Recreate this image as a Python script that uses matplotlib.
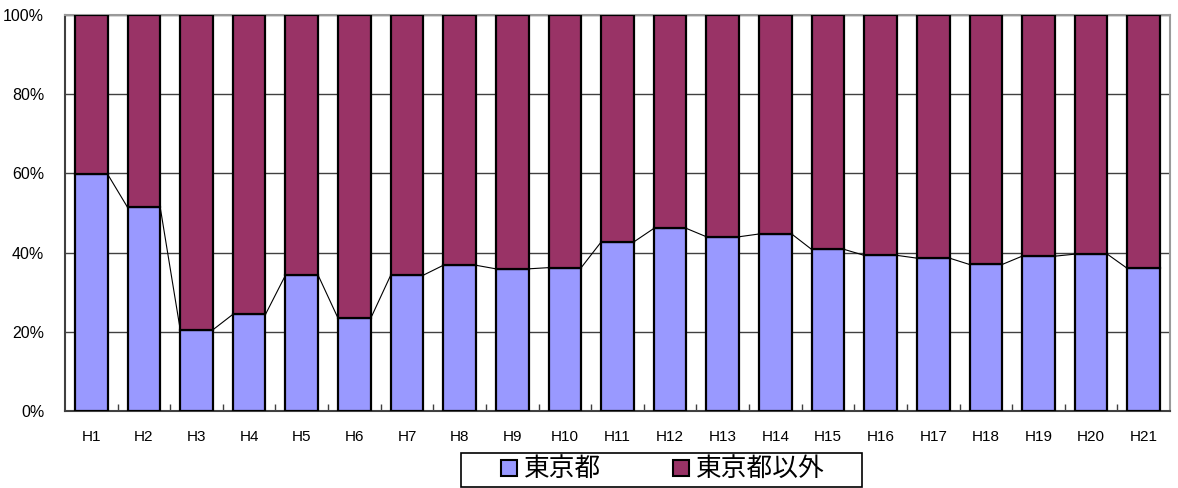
import numpy as np
import matplotlib.pyplot as plt
from matplotlib.patches import Patch, Rectangle
from matplotlib.ticker import FixedLocator, PercentFormatter

plt.rcParams['font.family'] = ['Liberation Sans', 'Noto Sans CJK JP', 'DejaVu Sans']

years = ['H%d' % i for i in range(1, 22)]
# share of Tokyo (%), remainder is outside Tokyo
tokyo = [59.8, 51.4, 20.5, 24.4, 34.3, 23.4, 34.3, 36.8, 35.9, 36.2, 42.7,
         46.1, 44.0, 44.7, 40.8, 39.3, 38.6, 37.0, 39.1, 39.6, 36.0]
other = [100 - v for v in tokyo]
series_names = ['東京都', '東京都以外']
colors = ['#9999FF', '#993366']

W, H = 1178, 488
fig = plt.figure(figsize=(W/100, H/100), dpi=100)
ax = fig.add_axes([65/W, 77/H, 1105/W, 396/H])

x = np.arange(len(years))
w = 0.62
ax.bar(x, tokyo, w, color=colors[0], edgecolor='black', linewidth=1.6, zorder=3)
ax.bar(x, other, w, bottom=tokyo, color=colors[1], edgecolor='black', linewidth=1.6, zorder=3)

# series lines between the tops of the lower segment
for i in range(len(x) - 1):
    ax.plot([x[i] + w/2, x[i+1] - w/2], [tokyo[i], tokyo[i+1]],
            color='black', lw=0.8, zorder=2)

ax.set_xlim(-0.5, len(years) - 0.5)
ax.set_ylim(0, 100)
ax.set_yticks(np.arange(0, 101, 20))
ax.yaxis.set_major_formatter(PercentFormatter(decimals=0))
ax.set_xticks(x)
ax.set_xticklabels(years)
ax.xaxis.set_minor_locator(FixedLocator(np.arange(0.5, len(years) - 1, 1)))
ax.tick_params(axis='x', which='major', length=0, pad=14, labelsize=11)
ax.tick_params(axis='x', which='minor', direction='in', length=5, width=1, color='#404040')
ax.tick_params(axis='y', length=0, pad=15, labelsize=11.5)

ax.yaxis.grid(True, color='#404040', lw=1, zorder=0)
ax.set_axisbelow(True)
for side in ['top', 'right']:
    ax.spines[side].set_color('#9a9a9a')
    ax.spines[side].set_linewidth(1.5)
for side in ['left', 'bottom']:
    ax.spines[side].set_color('#404040')
    ax.spines[side].set_linewidth(1.5)

# legend box drawn separately so it can be wider than its entries
fig.add_artist(Rectangle((461/W, 1/H), 401/W, 34/H, transform=fig.transFigure,
                         facecolor='white', edgecolor='black', lw=1.2))
handles = [Patch(facecolor=c, edgecolor='black', linewidth=1.5) for c in colors]
fig.legend(handles, series_names, loc='center', bbox_to_anchor=(663/W, 18/H),
           ncol=2, frameon=False,
           prop={'family': ['Noto Sans CJK JP', 'DejaVu Sans'], 'size': 18.5},
           handlelength=0.6, handleheight=0.6, handletextpad=0.28,
           columnspacing=2.8, borderpad=0, borderaxespad=0)

fig.savefig('out.png', dpi=100)
